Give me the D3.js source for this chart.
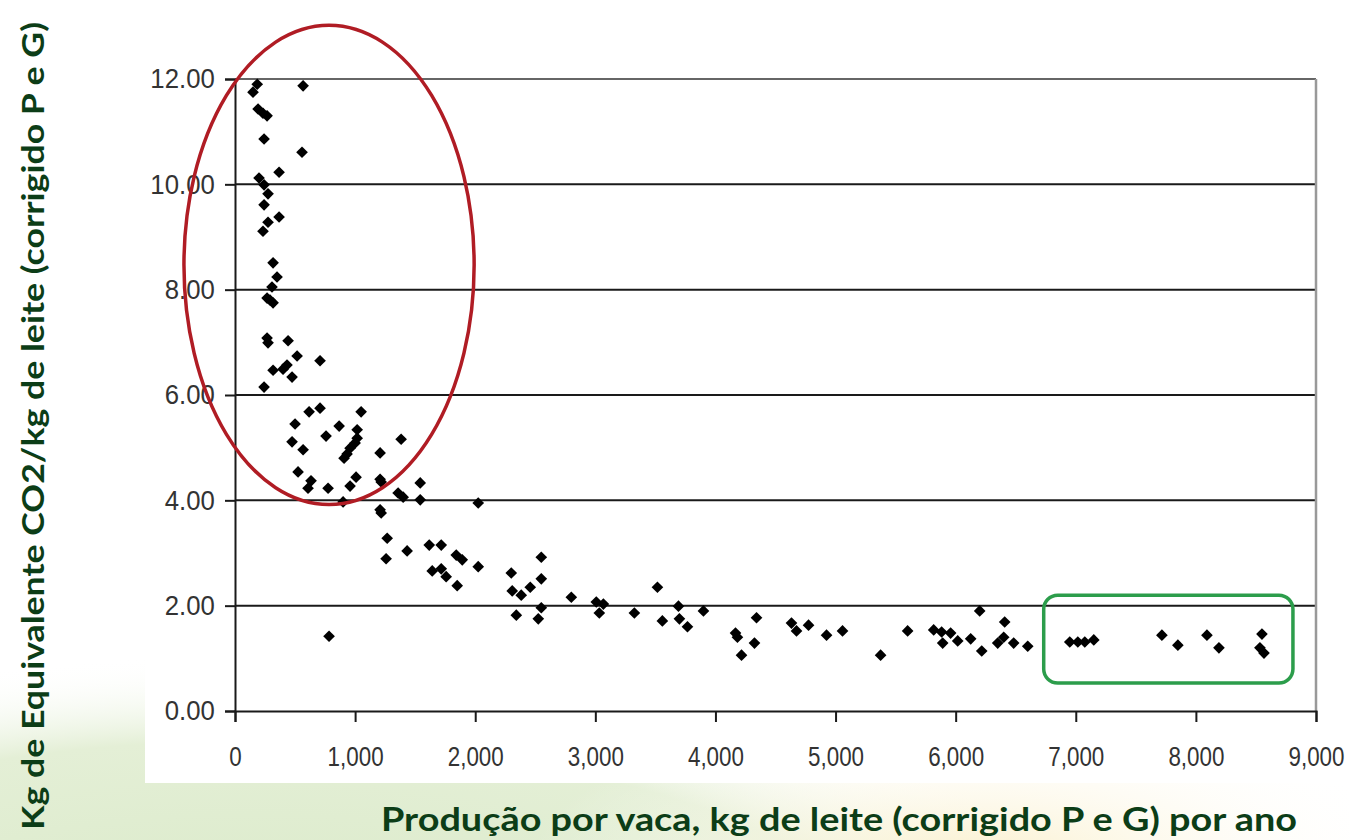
<!DOCTYPE html>
<html>
<head>
<meta charset="utf-8">
<script src="https://cdn.jsdelivr.net/npm/d3@7"></script>
<style>
  body { margin: 0; background: #fff; }
  svg { display: block; }
</style>
</head>
<body>
<div id="content"></div>
<script>
// kg of milk per cow per year
var producao = [150, 185, 567, 192, 233, 267, 242, 558, 367, 200, 242, 275, 242, 367, 275, 233,
    317, 350, 308, 267, 292, 317, 267, 275, 442, 517, 708, 317, 433, 475, 400, 242,
    617, 708, 1050, 500, 867, 1017, 758, 1383, 475, 1017, 1000, 567, 958, 933, 908, 1208,
    525, 633, 608, 775, 1008, 958, 1208, 1217, 1542, 1358, 1400, 1542, 900, 2025,
    1208, 1217, 1267, 1433, 1258, 1617, 1717, 1842, 1892, 2025, 1642, 1717, 1758, 1850, 783,
    2300, 2550, 2550, 2308, 2383, 2458, 2342, 2550, 2525, 2800, 3008, 3067, 3033, 3325,
    3517, 3558, 3692, 3700, 3767, 3900, 4167, 4183, 4342, 4217, 4325, 4633, 4675, 4775,
    4925, 5058, 5375, 5600, 5817, 5883, 5892, 5958, 6017, 6125, 6200, 6217, 6408, 6350,
    6400, 6483, 6600, 6950, 7017, 7075, 7150, 7717, 7850, 8092, 8192, 8550, 8533, 8567];

// kg CO2 eq per kg of milk
var co2eq = [11.75, 11.90, 11.87, 11.43, 11.35, 11.30, 10.86, 10.61, 10.23, 10.12, 9.99, 9.82, 9.61, 9.38, 9.28, 9.11,
    8.51, 8.24, 8.05, 7.84, 7.80, 7.75, 7.08, 6.99, 7.03, 6.74, 6.65, 6.47, 6.57, 6.34, 6.49, 6.15,
    5.68, 5.75, 5.68, 5.45, 5.41, 5.34, 5.22, 5.16, 5.11, 5.18, 5.09, 4.96, 4.99, 4.88, 4.80, 4.90,
    4.54, 4.37, 4.23, 4.23, 4.44, 4.27, 4.40, 4.35, 4.33, 4.14, 4.06, 4.01, 3.97, 3.95,
    3.82, 3.76, 3.28, 3.04, 2.89, 3.15, 3.15, 2.96, 2.87, 2.74, 2.66, 2.70, 2.55, 2.38, 1.42,
    2.62, 2.92, 2.51, 2.28, 2.20, 2.35, 1.82, 1.96, 1.75, 2.16, 2.07, 2.03, 1.86, 1.86,
    2.35, 1.71, 1.99, 1.75, 1.60, 1.90, 1.48, 1.40, 1.77, 1.06, 1.29, 1.67, 1.52, 1.63,
    1.44, 1.52, 1.06, 1.52, 1.54, 1.50, 1.29, 1.48, 1.33, 1.37, 1.90, 1.14, 1.69, 1.29,
    1.40, 1.29, 1.23, 1.31, 1.31, 1.31, 1.35, 1.44, 1.25, 1.44, 1.20, 1.46, 1.20, 1.10];

var xTicks = [0, 1000, 2000, 3000, 4000, 5000, 6000, 7000, 8000, 9000];
var yTicks = [0, 2, 4, 6, 8, 10, 12];

var xTitle = "Produção por vaca, kg de leite (corrigido P e G) por ano";
var yTitle = "Kg de Equivalente CO2/kg de leite  (corrigido P e G)";

var width = 1350,
    height = 840;

var svg = d3.select("#content")
    .append("svg")
    .attr("width", width)
    .attr("height", height);

// faint slide background washes
var defs = svg.append("defs");
var g1 = defs.append("radialGradient").attr("id", "greenWash");
g1.append("stop").attr("offset", "0%").attr("stop-color", "#d6e8c4");
g1.append("stop").attr("offset", "75%").attr("stop-color", "#e4efd6");
g1.append("stop").attr("offset", "100%").attr("stop-color", "#ffffff").attr("stop-opacity", 0);
var g2 = defs.append("radialGradient").attr("id", "yellowWash");
g2.append("stop").attr("offset", "0%").attr("stop-color", "#faf0cc");
g2.append("stop").attr("offset", "100%").attr("stop-color", "#ffffff").attr("stop-opacity", 0);

svg.append("ellipse")
    .attr("cx", 250).attr("cy", 1000).attr("rx", 900).attr("ry", 345)
    .attr("fill", "url(#greenWash)");
svg.append("ellipse")
    .attr("cx", 980).attr("cy", 860).attr("rx", 450).attr("ry", 150)
    .attr("fill", "url(#yellowWash)");

// white chart panel
svg.append("rect")
    .attr("x", 145).attr("y", 40)
    .attr("width", 1200).attr("height", 743)
    .attr("fill", "#ffffff");

var x = d3.scaleLinear().domain([0, 9000]).range([235, 1316]);
var y = d3.scaleLinear().domain([0, 12]).range([711, 79]);

// gridlines
svg.append("g")
    .selectAll("line")
    .data(yTicks.filter(function (d) { return d > 0; }))
    .enter()
    .append("line")
    .attr("x1", x(0)).attr("x2", x(9000))
    .attr("y1", function (d) { return y(d); })
    .attr("y2", function (d) { return y(d); })
    .attr("stroke", function (d) { return d == 12 ? "#666" : "#1a1a1a"; })
    .attr("stroke-width", 2);

// right border of the plot area
svg.append("line")
    .attr("x1", x(9000)).attr("x2", x(9000))
    .attr("y1", y(12)).attr("y2", y(0))
    .attr("stroke", "#999").attr("stroke-width", 2.5);

var tickFont = "'Liberation Sans', Arial, sans-serif";

var xAxis = svg.append("g")
    .attr("transform", "translate(0," + y(0) + ")")
    .call(d3.axisBottom(x).tickValues(xTicks).tickSize(11).tickPadding(24)
        .tickFormat(d3.format(",")));

var yAxis = svg.append("g")
    .attr("transform", "translate(" + x(0) + ",0)")
    .call(d3.axisLeft(y).tickValues(yTicks).tickSize(10).tickPadding(12)
        .tickFormat(d3.format(".2f")));

[xAxis, yAxis].forEach(function (a) {
    a.select(".domain").attr("stroke", "#1a1a1a").attr("stroke-width", 2);
    a.selectAll(".tick line").attr("stroke", "#1a1a1a").attr("stroke-width", 2);
    a.selectAll(".tick text")
        .attr("fill", "#333")
        .style("font-family", tickFont)
        .style("font-size", "28px");
});
// the slide squeezed the tick text sideways, the x labels more than the y labels
xAxis.selectAll(".tick text").attr("transform", "scale(0.8,1)");
yAxis.selectAll(".tick text").attr("transform", "scale(0.92,1)");

// scatter points (Excel-like diamonds)
var diamond = d3.symbol().type(d3.symbolSquare).size(68);
svg.append("g")
    .selectAll("path")
    .data(producao)
    .enter()
    .append("path")
    .attr("d", diamond)
    .attr("transform", function (d, i) {
        return "translate(" + x(d) + "," + y(co2eq[i]) + ") rotate(45)";
    })
    .attr("fill", "#000");

// annotations: red ellipse around low-production farms, green box around high producers
svg.append("ellipse")
    .attr("cx", x(783)).attr("cy", y(8.47))
    .attr("rx", x(1208) - x(0)).attr("ry", y(0) - y(4.55))
    .attr("fill", "none")
    .attr("stroke", "#b01c24")
    .attr("stroke-width", 3.5);

svg.append("rect")
    .attr("x", x(6733)).attr("y", y(2.2))
    .attr("width", x(8808) - x(6733))
    .attr("height", y(0.53) - y(2.2))
    .attr("rx", 14)
    .attr("fill", "none")
    .attr("stroke", "#2c9d4b")
    .attr("stroke-width", 3.5);

// axis titles
svg.append("text")
    .attr("x", 839).attr("y", 831)
    .attr("text-anchor", "middle")
    .attr("textLength", 916)
    .attr("lengthAdjust", "spacingAndGlyphs")
    .style("font-family", "Lato, 'Open Sans', sans-serif")
    .style("font-weight", "bold")
    .style("font-size", "32px")
    .attr("fill", "#0c3d17")
    .text(xTitle);

svg.append("text")
    .attr("transform", "translate(44,426) rotate(-90)")
    .attr("text-anchor", "middle")
    .attr("textLength", 808)
    .attr("lengthAdjust", "spacingAndGlyphs")
    .style("font-family", "Lato, 'Open Sans', sans-serif")
    .style("font-weight", "bold")
    .style("font-size", "30px")
    .attr("fill", "#0c3d17")
    .text(yTitle);
</script>
</body>
</html>
